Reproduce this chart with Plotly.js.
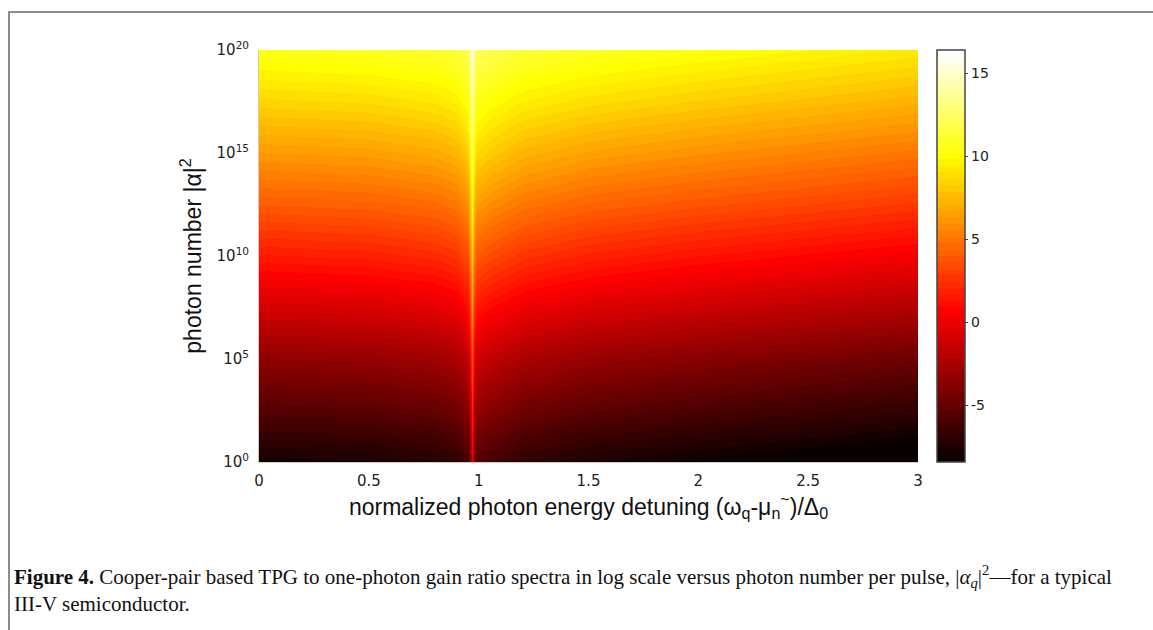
<!DOCTYPE html>
<html>
<head>
<meta charset="utf-8">
<script src="https://cdn.plot.ly/plotly-3.0.1.min.js"></script>
<style>
  html, body { margin: 0; padding: 0; background: #fff; }
  #wrap { position: relative; width: 1153px; height: 630px; overflow: hidden; }
  #frame { position: absolute; left: 8px; top: 11px; width: 1200px; height: 700px;
           border-top: 2px solid #8c8c8c; border-left: 2px solid #8c8c8c; pointer-events: none; }
  #chart { position: absolute; left: 0; top: 0; width: 1153px; height: 630px; }
</style>
</head>
<body>
<div id="wrap">
  <div id="chart"></div>
  <div id="frame"></div>
</div>
<script>
// normalized photon energy detuning (x)
const detuning = [0, 0.5, 0.8, 0.9, 0.95, 0.962, 0.97, 0.978, 0.99, 1.05, 1.2, 1.5, 2, 2.5, 3];
// photon number |alpha|^2 (y)
const photonNumber = [1, 3.162e2, 1e5, 3.162e7, 1e10, 3.162e12, 1e15, 3.162e17, 1e20];
// log-scale TPG / one-photon gain ratio, rows follow photonNumber
const gainRatio = [
  [-7.9, -7.7, -7.3, -6.9, -5.9, -4.2,  0.1, -4.2, -5.5, -6.1, -6.9, -7.6, -8.2, -8.7, -9.2],
  [-5.6, -5.4, -5.0, -4.6, -3.6, -1.9,  2.0, -1.9, -3.2, -3.8, -4.6, -5.3, -5.9, -6.4, -6.9],
  [-3.4, -3.2, -2.8, -2.4, -1.4,  0.3,  3.9,  0.3, -1.0, -1.6, -2.4, -3.1, -3.7, -4.2, -4.7],
  [-0.9, -0.7, -0.3,  0.1,  1.1,  2.8,  6.1,  2.8,  1.5,  0.9,  0.1, -0.6, -1.2, -1.7, -2.2],
  [ 1.6,  1.8,  2.2,  2.6,  3.6,  5.3,  8.2,  5.3,  4.0,  3.4,  2.6,  1.9,  1.3,  0.8,  0.3],
  [ 4.0,  4.2,  4.6,  5.0,  6.0,  7.7, 10.2,  7.7,  6.4,  5.8,  5.0,  4.3,  3.7,  3.2,  2.7],
  [ 6.3,  6.5,  6.9,  7.3,  8.3, 10.0, 12.2, 10.0,  8.7,  8.1,  7.3,  6.6,  6.0,  5.5,  5.0],
  [ 8.5,  8.7,  9.1,  9.5, 10.3, 11.9, 14.2, 11.9, 10.6, 10.1,  9.4,  8.8,  8.2,  7.7,  7.2],
  [10.6, 10.8, 11.1, 11.4, 12.0, 13.6, 16.3, 13.6, 12.3, 11.9, 11.3, 10.8, 10.3,  9.8,  9.3]
];
const xTickVals = [0, 0.5, 1, 1.5, 2, 2.5, 3];
const xTickText = ['0', '0.5', '1', '1.5', '2', '2.5', '3'];
const yTickVals = [1, 1e5, 1e10, 1e15, 1e20];
const yTickText = ['10<sup>0</sup>', '10<sup>5</sup>', '10<sup>10</sup>', '10<sup>15</sup>', '10<sup>20</sup>'];
const cbTickVals = [-5, 0, 5, 10, 15];
const cbTickText = ['-5', '0', '5', '10', '15'];
const colorMin = -8.4, colorMax = 16.4;

// MATLAB-like "hot" colormap with 64 discrete levels
function hot(t) {
  const r = Math.min(1, t / 0.375), g = Math.max(0, Math.min(1, (t - 0.375) / 0.375)),
        b = Math.max(0, Math.min(1, (t - 0.75) / 0.25));
  return 'rgb(' + Math.round(r * 255) + ',' + Math.round(g * 255) + ',' + Math.round(b * 255) + ')';
}
const N = 64, hotScale = [];
for (let k = 0; k < N; k++) {
  const c = hot((k + 1) / N);
  hotScale.push([k / N, c]);
  hotScale.push([(k + 1) / N, c]);
}

const trace = {
  type: 'heatmap',
  x: detuning, y: photonNumber, z: gainRatio,
  zmin: colorMin, zmax: colorMax, zsmooth: 'best',
  colorscale: hotScale,
  colorbar: {
    x: 1.0288, xanchor: 'left', xref: 'paper', xpad: 0,
    y: 0.5, yanchor: 'middle', len: 1, lenmode: 'fraction', ypad: 0,
    thickness: 28, thicknessmode: 'pixels',
    outlinecolor: '#444', outlinewidth: 1.5,
    tickvals: cbTickVals, ticktext: cbTickText, ticks: 'outside', ticklen: 3, tickcolor: '#444',
    tickfont: { family: 'DejaVu Sans', size: 14, color: '#222' }
  },
  hoverinfo: 'skip'
};

const layout = {
  width: 1153, height: 630,
  margin: { l: 259, r: 235, t: 50, b: 168 },
  paper_bgcolor: 'rgba(0,0,0,0)', plot_bgcolor: '#fff',
  xaxis: {
    range: [0, 3], tickvals: xTickVals, ticktext: xTickText, ticks: '', ticklabelstandoff: 5,
    showgrid: false, zeroline: false, showline: true, linecolor: '#ccc', linewidth: 1, mirror: false,
    tickfont: { family: 'DejaVu Sans', size: 15, color: '#222' },
    title: { text: 'normalized photon energy detuning (ω<sub>q</sub>-μ<sub>n</sub><sup>~</sup>)/Δ<sub>0</sub>',
             font: { family: 'Liberation Sans', size: 23, color: '#111' }, standoff: 0 }
  },
  yaxis: {
    type: 'log', range: [0, 20], tickvals: yTickVals, ticktext: yTickText, ticks: '', ticklabelstandoff: 6,
    showgrid: false, zeroline: false, showline: true, linecolor: '#ccc', linewidth: 1,
    tickfont: { family: 'DejaVu Sans', size: 15, color: '#222' },
    title: { text: 'photon number |α|<sup>2</sup>', font: { family: 'Liberation Sans', size: 23, color: '#111' }, standoff: 8 }
  },
  annotations: [
    { xref: 'paper', yref: 'paper', x: -0.375, y: -0.238, xanchor: 'left', yanchor: 'top', align: 'left', showarrow: false,
      text: '<b>Figure 4.</b> Cooper-pair based TPG to one-photon gain ratio spectra in log scale versus photon number per pulse, |<i>α<sub>q</sub></i>|<sup>2</sup>—for a typical<br>III-V semiconductor.',
      font: { family: 'Liberation Serif', size: 21, color: '#111' } }
  ]
};

Plotly.newPlot('chart', [trace], layout, { displayModeBar: false, staticPlot: true });
</script>
</body>
</html>
